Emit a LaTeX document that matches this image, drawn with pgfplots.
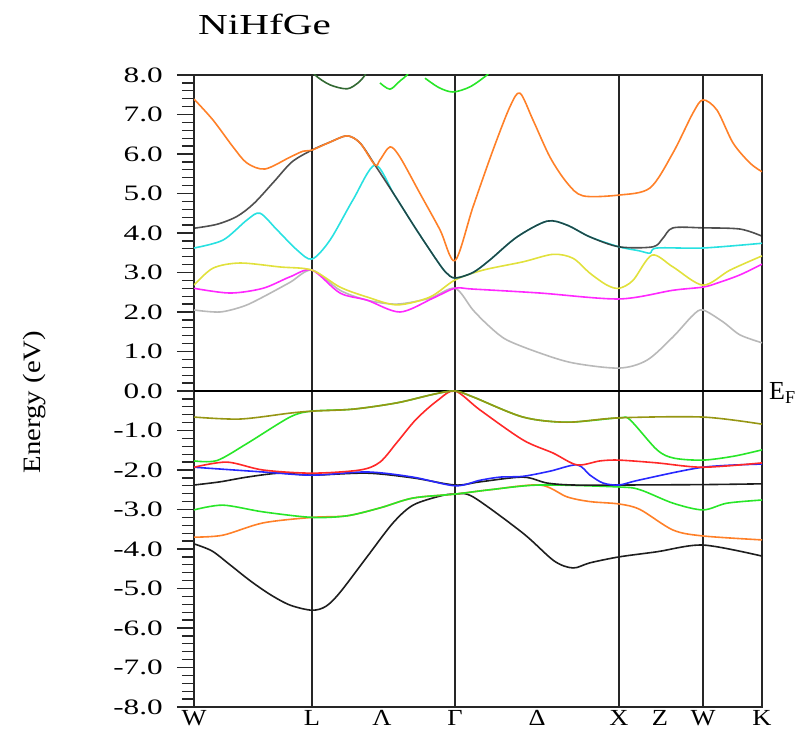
\documentclass[border=0pt]{standalone}
\usepackage{pgfplots}
\pgfplotsset{compat=1.18}
\usepackage{fontspec}
\setmainfont{Liberation Serif}
\newfontfamily\wideserif[FakeStretch=1.42]{Liberation Serif}
\newfontfamily\midserif[FakeStretch=1.15]{Liberation Serif}
\definecolor{orangeC}{RGB}{255,128,40}
\definecolor{cyanC}{RGB}{40,225,225}
\definecolor{yellowC}{RGB}{225,225,60}
\definecolor{magC}{RGB}{255,40,255}
\definecolor{grayC}{RGB}{185,185,185}
\definecolor{oliveC}{RGB}{150,150,20}
\definecolor{greenC}{RGB}{40,230,40}
\definecolor{redC}{RGB}{255,40,40}
\definecolor{blueC}{RGB}{40,40,255}
\definecolor{blackC}{RGB}{30,30,30}
\definecolor{dgreenC}{RGB}{50,105,50}
\begin{document}
\begin{tikzpicture}
\begin{axis}[
  scale only axis, width=568bp, height=632bp,
  xmin=0, xmax=568, ymin=-8, ymax=8,
  axis line style={line width=1.4bp, black!85},
  xtick={0,118,188,261,343,425,466,509,568},
  xticklabels={W,L,Λ,Γ,Δ,X,Z,W,K},
  x tick style={draw=none},
  xticklabel style={font=\midserif\fontsize{23bp}{25bp}\selectfont, anchor=base, inner sep=0bp, yshift=-1bp},
  ytick={-8,-7,...,8},
  yticklabels={{-8.0},{-7.0},{-6.0},{-5.0},{-4.0},{-3.0},{-2.0},{-1.0},{0.0},{1.0},{2.0},{3.0},{4.0},{5.0},{6.0},{7.0},{8.0}},
  minor y tick num=4,
  ytick pos=left, tick align=outside,
  major tick length=17bp, minor tick length=12bp,
  y tick style={line width=1.3bp, black!85},
  yticklabel style={font=\wideserif\fontsize{22bp}{24bp}\selectfont, anchor=east, inner sep=0bp, xshift=-14bp},
  clip=true,
  every axis plot/.append style={line width=1.6bp, smooth, tension=0.5, no marks},
]
\coordinate (bl) at (rel axis cs:0,0);
\coordinate (tr) at (rel axis cs:1,1);
\coordinate (ef) at (axis cs:568,0);
% reference lines
\draw[line width=1.5bp, black!85] (axis cs:118,-8) -- (axis cs:118,8);
\draw[line width=1.5bp, black!85] (axis cs:261,-8) -- (axis cs:261,8);
\draw[line width=1.5bp, black!85] (axis cs:425,-8) -- (axis cs:425,8);
\draw[line width=1.5bp, black!85] (axis cs:509,-8) -- (axis cs:509,8);
\draw[line width=1.2bp, black] (axis cs:0,0) -- (axis cs:568,0);

% ---- top partial bands
\addplot[dgreenC] coordinates {(113,8.3) (121,8.0) (136,7.75) (153,7.65) (164,7.8) (171,8.0) (177,8.3)};
\addplot[greenC] coordinates {(186,7.8) (196,7.64) (206,7.85) (213,8.0) (218,8.2)};
\addplot[greenC] coordinates {(231,7.92) (245,7.68) (259,7.57) (276,7.7) (293,8.0) (300,8.2)};

% ---- conduction bands
\addplot[grayC] coordinates {(0,2.05) (26,2.0) (50,2.15) (69,2.38) (96,2.75) (118,3.06) (146,2.55) (173,2.3) (203,2.2) (236,2.35) (261,2.6) (279,2.05) (296,1.62) (313,1.29) (346,0.96) (379,0.71) (425,0.58) (453,0.78) (479,1.37) (499,1.92) (509,2.05) (529,1.75) (546,1.42) (568,1.22)};
\addplot[magC] coordinates {(0,2.6) (36,2.48) (69,2.6) (96,2.89) (118,3.06) (146,2.48) (173,2.3) (206,2.0) (239,2.35) (261,2.6) (279,2.58) (346,2.48) (425,2.33) (479,2.55) (509,2.63) (523,2.73) (546,2.94) (568,3.21)};
\addplot[yellowC] coordinates {(0,2.68) (19,3.11) (46,3.24) (86,3.14) (118,3.06) (146,2.63) (173,2.38) (203,2.18) (236,2.38) (261,2.81) (289,3.06) (329,3.27) (359,3.46) (379,3.36) (396,2.98) (413,2.68) (425,2.6) (439,2.8) (458,3.44) (479,3.14) (509,2.68) (536,3.06) (568,3.42)};
\addplot[cyanC] coordinates {(0,3.62) (29,3.82) (53,4.33) (66,4.5) (83,4.08) (103,3.57) (118,3.34) (136,3.82) (159,4.84) (181,5.72) (200,4.98) (222,4.1) (243,3.3) (252,3.0) (261,2.86) (279,3.0) (296,3.32) (323,3.9) (353,4.3) (373,4.2) (396,3.9) (425,3.65) (445,3.55) (456,3.49) (463,3.62) (509,3.62) (568,3.74)};
\addplot[blackC, opacity=0.78] coordinates {(0,4.12) (23,4.22) (43,4.42) (60,4.75) (80,5.3) (98,5.8) (118,6.1) (136,6.3) (153,6.46) (166,6.28) (181,5.72) (200,4.98) (222,4.1) (243,3.3) (252,3.0) (261,2.86) (279,3.0) (296,3.32) (323,3.9) (353,4.3) (373,4.2) (396,3.9) (425,3.65) (459,3.65) (469,3.87) (479,4.13) (509,4.13) (546,4.1) (568,3.92)};
\addplot[orangeC] coordinates {(0,7.39) (19,6.86) (39,6.18) (53,5.77) (71,5.62) (96,5.92) (109,6.07) (118,6.1) (136,6.3) (153,6.46) (166,6.28) (181,5.72) (186,5.85) (196,6.18) (206,5.92) (226,5.0) (246,4.08) (261,3.3) (279,4.66) (299,6.1) (316,7.2) (326,7.54) (339,6.86) (356,5.92) (373,5.27) (389,4.94) (425,4.96) (456,5.14) (479,6.03) (499,7.04) (509,7.37) (523,7.11) (539,6.28) (556,5.77) (568,5.55)};

% ---- valence bands
\addplot[blackC] coordinates {(0,-3.87) (18,-4.05) (36,-4.4) (56,-4.8) (76,-5.15) (96,-5.42) (118,-5.55) (132,-5.45) (146,-5.1) (173,-4.2) (199,-3.34) (219,-2.89) (246,-2.66) (261,-2.61) (279,-2.68) (329,-3.6) (360,-4.3) (379,-4.48) (396,-4.35) (425,-4.2) (463,-4.07) (509,-3.9) (568,-4.18)};
\addplot[orangeC] coordinates {(0,-3.7) (29,-3.65) (69,-3.34) (118,-3.2) (153,-3.16) (186,-2.96) (219,-2.71) (261,-2.61) (296,-2.5) (346,-2.38) (373,-2.68) (396,-2.8) (425,-2.86) (446,-3.0) (479,-3.52) (509,-3.67) (568,-3.77)};
\addplot[greenC] coordinates {(0,-3.01) (29,-2.89) (69,-3.06) (118,-3.2) (153,-3.16) (186,-2.96) (219,-2.71) (261,-2.61) (296,-2.5) (346,-2.38) (425,-2.43) (446,-2.5) (479,-2.84) (509,-3.01) (533,-2.84) (568,-2.76)};
\addplot[blackC] coordinates {(0,-2.38) (26,-2.3) (53,-2.18) (86,-2.08) (118,-2.13) (173,-2.08) (219,-2.2) (261,-2.38) (286,-2.3) (329,-2.18) (353,-2.33) (379,-2.38) (425,-2.38) (509,-2.37) (568,-2.35)};
\addplot[blueC] coordinates {(0,-1.93) (69,-2.05) (118,-2.13) (173,-2.05) (219,-2.18) (261,-2.4) (286,-2.26) (306,-2.18) (329,-2.16) (356,-2.03) (383,-1.87) (396,-2.13) (409,-2.33) (425,-2.38) (446,-2.25) (509,-1.93) (568,-1.85)};
\addplot[redC] coordinates {(0,-1.93) (33,-1.8) (69,-2.0) (118,-2.08) (166,-2.0) (186,-1.8) (203,-1.3) (222,-0.72) (243,-0.25) (261,0) (286,-0.48) (329,-1.24) (359,-1.57) (383,-1.87) (406,-1.77) (425,-1.75) (463,-1.82) (509,-1.93) (568,-1.82)};
\addplot[greenC] coordinates {(0,-1.77) (23,-1.76) (53,-1.33) (96,-0.66) (118,-0.51) (159,-0.46) (203,-0.3) (240,-0.08) (261,0) (279,-0.15) (329,-0.66) (373,-0.79) (425,-0.68) (436,-0.73) (463,-1.49) (480,-1.7) (509,-1.75) (540,-1.65) (568,-1.49)};
\addplot[oliveC] coordinates {(0,-0.66) (46,-0.71) (96,-0.56) (118,-0.51) (159,-0.46) (203,-0.3) (240,-0.08) (261,0) (279,-0.15) (329,-0.66) (373,-0.79) (425,-0.68) (509,-0.66) (568,-0.84)};
\end{axis}
\node[anchor=base west, inner sep=0, font=\wideserif\fontsize{29bp}{31bp}\selectfont] at ([shift={(4bp,40bp)}]bl |- tr) {NiHfGe};
\node[anchor=center, rotate=90, inner sep=0, font=\midserif\fontsize{25bp}{27bp}\selectfont] at ([shift={(-159bp,305bp)}]bl) {Energy (eV)};
\node[anchor=base west, inner sep=0, font=\fontsize{26bp}{28bp}\selectfont] at ([shift={(7bp,-9bp)}]ef) {E\textsubscript{F}};
\pgfresetboundingbox
\path ([shift={(-194bp,-24bp)}]bl) rectangle ([shift={(46bp,75bp)}]tr);
\end{tikzpicture}
\end{document}
